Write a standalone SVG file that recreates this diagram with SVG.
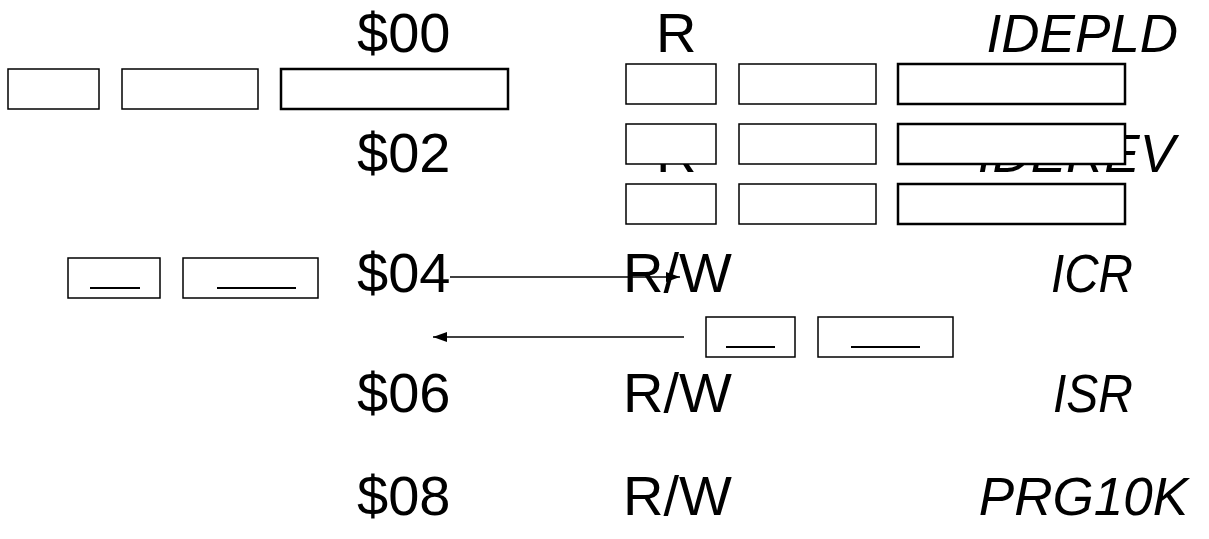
<svg xmlns="http://www.w3.org/2000/svg" width="1209" height="539" viewBox="0 0 1209 539">
<style>
.t{font-family:"Liberation Sans",Arial,sans-serif;font-size:56px;fill:#000}
.i{font-style:italic;text-anchor:end;font-size:53px}
.b{fill:#fff;stroke:#000;stroke-width:1.5}
.bb{fill:#fff;stroke:#000;stroke-width:2.5}
.u{stroke:#000;stroke-width:2}
.c{stroke:#000;stroke-width:1.5;fill:none}
</style>
<defs>
<marker id="ah" markerWidth="14" markerHeight="10" refX="14" refY="5" orient="auto" markerUnits="userSpaceOnUse">
<path d="M0,0 L14,5 L0,10 Z" fill="#000"/>
</marker>
</defs>
<g id="labels">
<text class="t" x="357" y="52">$00</text>
<text class="t" x="656" y="52">R</text>
<text class="t i" x="1178" y="52">IDEPLD</text>
<text class="t" x="357" y="172">$02</text>
<text class="t" x="656" y="172">R</text>
<text class="t i" x="1175" y="172">IDEREV</text>
<text class="t" x="357" y="292">$04</text>
<text class="t" x="623" y="292">R/W</text>
<text class="t i" x="1133" y="292" textLength="82" lengthAdjust="spacingAndGlyphs">ICR</text>
<text class="t" x="357" y="412">$06</text>
<text class="t" x="623" y="412">R/W</text>
<text class="t i" x="1133" y="412" textLength="80" lengthAdjust="spacingAndGlyphs">ISR</text>
<text class="t" x="357" y="515">$08</text>
<text class="t" x="623" y="515">R/W</text>
<text class="t i" x="1188" y="515">PRG10K</text>
</g>
<g id="left-row1">
<rect class="b" x="8" y="69" width="91" height="40"/>
<rect class="b" x="122" y="69" width="136" height="40"/>
<rect class="bb" x="281" y="69" width="227" height="40"/>
</g>
<g id="right-row1">
<rect class="b" x="626" y="64" width="90" height="40"/>
<rect class="b" x="739" y="64" width="137" height="40"/>
<rect class="bb" x="898" y="64" width="227" height="40"/>
</g>
<g id="right-row2">
<rect class="b" x="626" y="124" width="90" height="40"/>
<rect class="b" x="739" y="124" width="137" height="40"/>
<rect class="bb" x="898" y="124" width="227" height="40"/>
</g>
<g id="right-row3">
<rect class="b" x="626" y="184" width="90" height="40"/>
<rect class="b" x="739" y="184" width="137" height="40"/>
<rect class="bb" x="898" y="184" width="227" height="40"/>
</g>
<g id="left-row4">
<rect class="b" x="68" y="258" width="92" height="40"/>
<line class="u" x1="90" y1="288" x2="140" y2="288"/>
<rect class="b" x="183" y="258" width="135" height="40"/>
<line class="u" x1="217" y1="288" x2="296" y2="288"/>
</g>
<g id="right-row4">
<rect class="b" x="706" y="317" width="89" height="40"/>
<line class="u" x1="726" y1="347" x2="775" y2="347"/>
<rect class="b" x="818" y="317" width="135" height="40"/>
<line class="u" x1="851" y1="347" x2="920" y2="347"/>
</g>
<g id="connectors">
<line class="c" x1="450" y1="277" x2="680" y2="277" marker-end="url(#ah)"/>
<line class="c" x1="684" y1="337" x2="433" y2="337" marker-end="url(#ah)"/>
</g>
</svg>
